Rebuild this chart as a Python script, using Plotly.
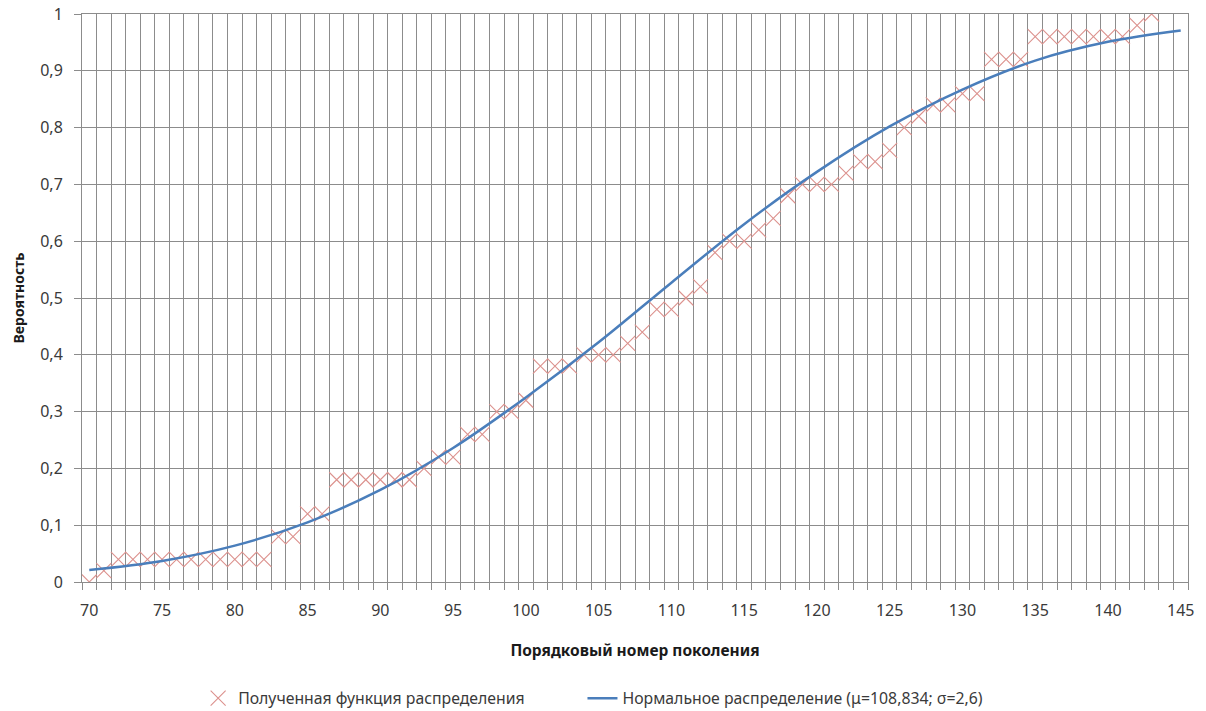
import plotly.graph_objects as go

# Generation numbers and the observed (empirical) distribution function
generations = list(range(70, 144))
empirical = [
    0.00, 0.02, 0.04, 0.04, 0.04, 0.04, 0.04, 0.04, 0.04, 0.04,   # 70-79
    0.04, 0.04, 0.04, 0.08, 0.08, 0.12, 0.12, 0.18, 0.18, 0.18,   # 80-89
    0.18, 0.18, 0.18, 0.20, 0.22, 0.22, 0.26, 0.26, 0.30, 0.30,   # 90-99
    0.32, 0.38, 0.38, 0.38, 0.40, 0.40, 0.40, 0.42, 0.44, 0.48,   # 100-109
    0.48, 0.50, 0.52, 0.58, 0.60, 0.60, 0.62, 0.64, 0.68, 0.70,   # 110-119
    0.70, 0.70, 0.72, 0.74, 0.74, 0.76, 0.80, 0.82, 0.84, 0.84,   # 120-129
    0.86, 0.86, 0.92, 0.92, 0.92, 0.96, 0.96, 0.96, 0.96, 0.96,   # 130-139
    0.96, 0.96, 0.98, 1.00,                                       # 140-143
]

# Fitted normal distribution curve, sampled along the axis
curve_x = [70, 75, 80, 85, 90, 95, 100, 105, 110, 115, 120, 125, 130, 135, 140, 145]
curve_y = [0.021, 0.037, 0.064, 0.105, 0.162, 0.236, 0.325, 0.422, 0.527, 0.630,
           0.722, 0.802, 0.867, 0.918, 0.951, 0.971]

x_labels = list(range(70, 146, 5))
y_ticks = [i / 10 for i in range(11)]

x_min, x_max = 70, 145
cell_edges = [v - 0.5 for v in range(x_min, x_max + 2)]

series_name_1 = "Полученная функция распределения"
series_name_2 = "Нормальное распределение (μ=108,834; σ=2,6)"

grid_color = "#8c8c8c"
text_color = "#3a3a3a"
font_family = "Noto Sans, DejaVu Sans, sans-serif"

fig = go.Figure()

fig.add_trace(go.Scatter(
    x=generations, y=empirical, mode="markers", name=series_name_1,
    legend="legend",
    marker=dict(symbol="x-thin-open", size=15, color="#dc928e",
                line=dict(width=1.1, color="#dc928e")),
))

fig.add_trace(go.Scatter(
    x=curve_x, y=curve_y, mode="lines", name=series_name_2,
    legend="legend2",
    line=dict(color="#4a7ebb", width=2.5, shape="spline", smoothing=1.0),
))

legend_style = dict(orientation="h", y=-0.205, yanchor="middle",
                    font=dict(size=15.8, color=text_color), itemwidth=30,
                    bgcolor="rgba(0,0,0,0)")

fig.update_layout(
    width=1206, height=711,
    margin=dict(l=82, r=18, t=14, b=129, autoexpand=False),
    paper_bgcolor="white", plot_bgcolor="white",
    separators=", ",
    font=dict(family=font_family, size=15, color=text_color),
    showlegend=True,
    legend=dict(x=0.105, xanchor="left", **legend_style),
    legend2=dict(x=0.4525, xanchor="left", **legend_style),
)

fig.update_xaxes(
    range=[cell_edges[0], cell_edges[-1]],
    tickmode="array", tickvals=x_labels, ticktext=[str(v) for v in x_labels],
    ticks="", showgrid=False, zeroline=False,
    showline=True, linecolor=grid_color, linewidth=1, mirror=True,
    tickfont=dict(size=16, color=text_color), ticklabelstandoff=14,
    minor=dict(tickmode="array", tickvals=cell_edges, showgrid=True,
               gridcolor=grid_color, gridwidth=1,
               ticks="outside", ticklen=7, tickcolor=grid_color, tickwidth=1),
    title=dict(text="<b>Порядковый номер поколения</b>", standoff=24,
               font=dict(size=15.5, color="#1a1a1a")),
)

fig.update_yaxes(
    range=[0, 1], tickmode="array", tickvals=y_ticks,
    showgrid=True, gridcolor=grid_color, gridwidth=1, zeroline=False,
    showline=True, linecolor=grid_color, linewidth=1, mirror=True,
    ticks="outside", ticklen=7, tickcolor=grid_color,
    tickfont=dict(size=16, color=text_color), ticklabelstandoff=8,
)

fig.add_annotation(
    text="<b>Вероятность</b>", textangle=-90, showarrow=False,
    xref="paper", yref="paper", x=-0.0575, y=0.5, xanchor="center", yanchor="middle",
    font=dict(size=14, color="#1a1a1a"),
)

fig.write_html("out.html")
